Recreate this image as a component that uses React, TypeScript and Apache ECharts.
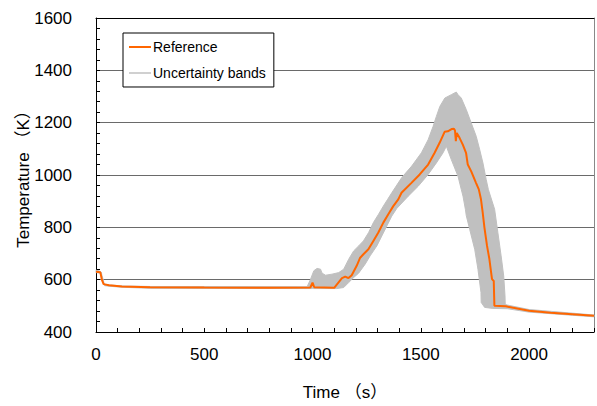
import React, { useEffect, useRef } from "react";
import * as echarts from "echarts";

const refTime = [0, 20, 27, 35, 60, 120, 250, 500, 800, 990, 1000, 1008, 1100, 1136, 1151, 1166, 1181, 1204, 1220, 1235, 1258, 1281, 1304, 1327, 1350, 1373, 1396, 1411, 1457, 1495, 1534, 1564, 1587, 1610, 1625, 1644, 1653, 1658, 1662, 1666, 1679, 1694, 1709, 1717, 1733, 1755, 1768, 1778, 1786, 1794, 1806, 1817, 1824, 1829, 1837, 1840, 1893, 2000, 2100, 2200, 2300];
const refTemp = [630, 628, 600, 583, 579, 574, 571, 570, 569, 570, 589, 571, 569, 606, 612, 606, 617, 653, 684, 697, 716, 748, 780, 818, 850, 881, 907, 932, 970, 1002, 1040, 1085, 1123, 1165, 1167, 1176, 1177, 1170, 1129, 1161, 1142, 1116, 1085, 1040, 1014, 970, 945, 907, 856, 799, 729, 678, 633, 602, 595, 500, 498, 481, 474, 468, 462];

const bandUpperTime = [0, 14, 25, 32, 45, 120, 250, 975, 991, 1006, 1021, 1037, 1044, 1060, 1090, 1121, 1144, 1167, 1190, 1213, 1235, 1259, 1281, 1305, 1327, 1347, 1366, 1412, 1458, 1503, 1534, 1557, 1572, 1588, 1611, 1641, 1664, 1672, 1687, 1710, 1733, 1756, 1772, 1787, 1802, 1812, 1841, 1856, 1871, 1883, 1889, 1890, 1900, 2000, 2100, 2200, 2300];
const bandUpperTemp = [636, 634, 628, 590, 581, 576, 574, 573, 602, 634, 643, 640, 625, 617, 621, 627, 640, 678, 710, 729, 748, 780, 818, 850, 881, 907, 932, 990, 1034, 1085, 1135, 1186, 1224, 1262, 1294, 1307, 1317, 1307, 1294, 1250, 1199, 1148, 1097, 1046, 983, 945, 869, 780, 691, 614, 538, 505, 503, 486, 479, 472, 465];

const bandLowerTime = [0, 20, 30, 40, 60, 120, 250, 1000, 1112, 1144, 1167, 1190, 1213, 1243, 1266, 1297, 1320, 1343, 1366, 1389, 1442, 1488, 1534, 1572, 1603, 1618, 1641, 1672, 1687, 1695, 1706, 1710, 1726, 1749, 1764, 1778, 1779, 1795, 1833, 1900, 2000, 2100, 2200, 2300];
const bandLowerTemp = [627, 625, 610, 577, 575, 571, 567, 566, 566, 570, 589, 608, 625, 659, 691, 729, 767, 805, 843, 872, 919, 957, 1002, 1046, 1085, 1110, 1059, 995, 945, 919, 869, 845, 792, 716, 640, 551, 513, 494, 490, 489, 476, 470, 464, 458];

const xLabelStep = 500;
const yLabelStep = 200;

const FONT = "'Liberation Sans', Arial, 'Noto Sans CJK JP', sans-serif";

export default function App() {
  const ref = useRef<HTMLDivElement>(null);
  useEffect(() => {
    if (!ref.current) return;
    const chart = echarts.init(ref.current, undefined, { renderer: "svg" });
    const refData = refTime.map((t, i) => [t, refTemp[i]]);
    const polygon: number[][] = [];
    bandUpperTime.forEach((t, i) => polygon.push([t, bandUpperTemp[i]]));
    for (let i = bandLowerTime.length - 1; i >= 0; i--) polygon.push([bandLowerTime[i], bandLowerTemp[i]]);

    chart.setOption({
      animation: false,
      grid: { left: 96, right: 1, top: 18, bottom: 73, show: false },
      legend: {
        orient: "vertical",
        left: 123,
        top: 33,
        backgroundColor: "#fff",
        borderColor: "#000",
        borderWidth: 1,
        padding: [7, 8, 7, 6],
        itemGap: 12,
        itemWidth: 22,
        itemHeight: 2,
        textStyle: { fontFamily: FONT, fontSize: 14, color: "#000", padding: [0, 0, 0, -3] },
        data: [
          { name: "Reference", icon: "rect", itemStyle: { color: "#ff6600" } },
          { name: "Uncertainty bands", icon: "rect", itemStyle: { color: "#d0d0d0" } },
        ],
      },
      xAxis: [
        {
          type: "value",
          min: 0,
          max: 2300,
          interval: 100,
          name: "Time （s）",
          nameLocation: "middle",
          nameGap: 52,
          nameMoveOverlap: false,
          nameTextStyle: { fontFamily: FONT, fontSize: 17, color: "#000" },
          axisLine: { show: true, lineStyle: { color: "#000", width: 1 } },
          axisTick: { show: true, inside: true, length: 4, lineStyle: { color: "#000" } },
          axisLabel: {
            fontFamily: FONT,
            fontSize: 17,
            color: "#000",
            margin: 14,
            formatter: (v: number) => (v % xLabelStep === 0 ? String(v) : ""),
          },
          splitLine: { show: false },
        },
        {
          type: "value",
          position: "top",
          min: 0,
          max: 2300,
          axisLine: { show: true, onZero: false, lineStyle: { color: "#000", width: 1 } },
          axisTick: { show: false },
          axisLabel: { show: false },
          splitLine: { show: false },
        },
      ],
      yAxis: [
        {
          type: "value",
          min: 400,
          max: 1600,
          interval: 200,
          name: "Temperature （K）",
          nameLocation: "middle",
          nameGap: 64,
          nameMoveOverlap: false,
          nameTextStyle: { fontFamily: FONT, fontSize: 17, color: "#000" },
          axisLine: { show: true, lineStyle: { color: "#000", width: 1 } },
          axisTick: { show: true, inside: true, length: 4, lineStyle: { color: "#000" } },
          minorTick: { show: true, splitNumber: 5, length: 4, lineStyle: { color: "#000" } },
          axisLabel: {
            fontFamily: FONT,
            fontSize: 17,
            color: "#000",
            margin: 24,
            formatter: (v: number) => (v % yLabelStep === 0 ? String(v) : ""),
          },
          splitLine: { show: true, lineStyle: { color: "#6a6a6a", width: 1 } },
        },
        {
          type: "value",
          position: "right",
          min: 400,
          max: 1600,
          axisLine: { show: true, onZero: false, lineStyle: { color: "#888", width: 1 } },
          axisTick: { show: false },
          axisLabel: { show: false },
          splitLine: { show: false },
        },
      ],
      series: [
        {
          name: "Uncertainty bands",
          type: "custom",
          xAxisIndex: 0,
          yAxisIndex: 0,
          itemStyle: { color: "#d0d0d0" },
          data: [[0, 600]],
          renderItem: (params: any, api: any) => {
            const pts = polygon.map((p) => api.coord(p));
            return {
              type: "polygon",
              shape: { points: pts },
              style: { fill: "#c0c0c0", stroke: "#c0c0c0", lineWidth: 1 },
            };
          },
          z: 2,
        },
        {
          name: "Reference",
          type: "line",
          xAxisIndex: 0,
          yAxisIndex: 0,
          data: refData,
          showSymbol: false,
          symbol: "none",
          lineStyle: { color: "#ff6600", width: 2 },
          itemStyle: { color: "#ff6600" },
          z: 3,
        },
      ],
    });
    return () => chart.dispose();
  }, []);
  return (
    <div
      ref={ref}
      style={{ position: "fixed", left: 0, top: 0, width: 597, height: 406, background: "#fff" }}
    />
  );
}
